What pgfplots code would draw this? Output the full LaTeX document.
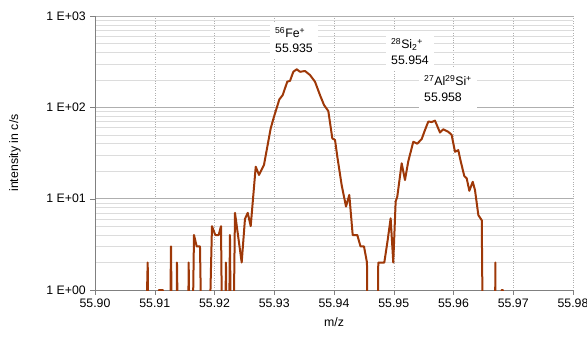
\documentclass[border=0pt]{standalone}
\usepackage{fontspec}
\setmainfont{Liberation Sans}
\usepackage{pgfplots}
\pgfplotsset{compat=1.18}
\definecolor{brownline}{RGB}{158,56,8}
\definecolor{gridgray}{RGB}{175,175,175}
\definecolor{minorgray}{RGB}{220,220,220}
\begin{document}
\fontsize{12}{14.5}\selectfont
\begin{tikzpicture}
\useasboundingbox (-95pt,-51pt) rectangle (492pt,290pt);
\begin{axis}[
  at={(0pt,0pt)}, anchor=south west,
  scale only axis, width=478pt, height=274pt,
  ymode=log, ymin=1, ymax=1000, xmin=55.90, xmax=55.98,
  xtick={55.90,55.91,55.92,55.93,55.94,55.95,55.96,55.97,55.98},
  xticklabels={55.90,55.91,55.92,55.93,55.94,55.95,55.96,55.97,55.98},
  ytick={1,10,100,1000},
  yticklabels={1 E+00,1 E+01,1 E+02,1 E+03},
  axis x line*=bottom, axis y line*=left,
  axis line style={-, draw=gray},
  tick align=outside, major tick length=5pt, minor tick length=0pt,
  tick style={gray},
  xmajorgrids, ymajorgrids, yminorgrids,
  major x grid style={dotted, gridgray},
  major y grid style={gridgray},
  minor y grid style={minorgray},
  xlabel={m/z}, ylabel={intensity in c/s},
  xlabel style={at={(axis description cs:0.5,-0.1168)}, anchor=center},
  ylabel style={at={(axis description cs:-0.1674,0.5)}, anchor=center},
  ticklabel style={font=\fontsize{12.3}{14}\selectfont},
  label style={font=\fontsize{12.3}{14}\selectfont},
  clip=true,
]
\addplot[brownline, line width=2pt, line join=round] table {
x y
55.9080 0.01
55.90882 2
55.9092 0.01
55.9105 0.01
55.91071 1
55.91138 1
55.9117 0.01
55.9123 0.01
55.91272 3
55.9131 0.01
55.9135 0.01
55.91372 2
55.9142 0.01
55.9154 0.01
55.91568 2
55.9160 0.01
55.91657 4
55.91702 3
55.91757 3
55.9182 0.01
55.9186 0.01
55.91958 5
55.92013 4
55.92070 4
55.92109 5
55.9215 0.01
55.92192 2
55.9222 0.01
55.92259 4
55.9229 0.01
55.92343 7
55.92455 2
55.92510 6
55.92556 7
55.92606 5
55.92690 22.4
55.92745 18.2
55.92828 23.4
55.92941 59
55.92996 79
55.93085 122
55.93141 136
55.93218 191
55.93264 195
55.93319 245
55.93376 261
55.93431 245
55.93515 250
55.93598 226
55.93682 191
55.93766 136
55.93833 106
55.93905 91
55.93972 45.7
55.94017 44
55.94055 29
55.94129 14
55.94201 8.2
55.94256 11
55.94313 4
55.94390 4
55.94444 3
55.94502 3
55.94552 2
55.9458 0.01
55.9472 0.01
55.94741 2
55.94842 2
55.94898 3.5
55.94948 6.1
55.94992 2
55.95032 9.3
55.95059 10.5
55.95133 24.4
55.95188 16
55.95243 25.6
55.95327 42
55.95394 40
55.95468 45
55.95523 56.5
55.95579 70
55.95635 69
55.95690 71.5
55.95774 53
55.95829 57.5
55.95913 54
55.95969 50
55.96025 32.6
55.96080 34
55.96121 25.6
55.96181 17.7
55.96221 16.7
55.96265 12.2
55.96322 15.3
55.96360 12.4
55.96416 6.6
55.96473 5.8
55.9651 0.01
55.9669 0.01
55.96700 2
55.9672 0.01
55.9679 0.01
55.96805 1
55.96825 1
55.9685 0.01
55.9700 0.01
};
\node[fill=white, align=left, anchor=base west, inner xsep=5pt, inner ysep=6pt, font=\fontsize{12.3}{15}\selectfont]
  at (axis cs:55.92929,394) {\textsuperscript{56}Fe\textsuperscript{+}\\55.935};
\node[fill=white, align=left, anchor=base west, inner xsep=5pt, inner ysep=6pt, font=\fontsize{12.3}{16.5}\selectfont]
  at (axis cs:55.94870,291.3) {\textsuperscript{28}Si\textsubscript{2}\textsuperscript{+}\\55.954};
\node[fill=white, align=left, anchor=base west, inner xsep=5pt, inner ysep=6pt, font=\fontsize{12.3}{16.5}\selectfont]
  at (axis cs:55.95423,114.6) {\textsuperscript{27}Al\textsuperscript{29}Si\textsuperscript{+}\\55.958};
\end{axis}
\end{tikzpicture}
\end{document}
